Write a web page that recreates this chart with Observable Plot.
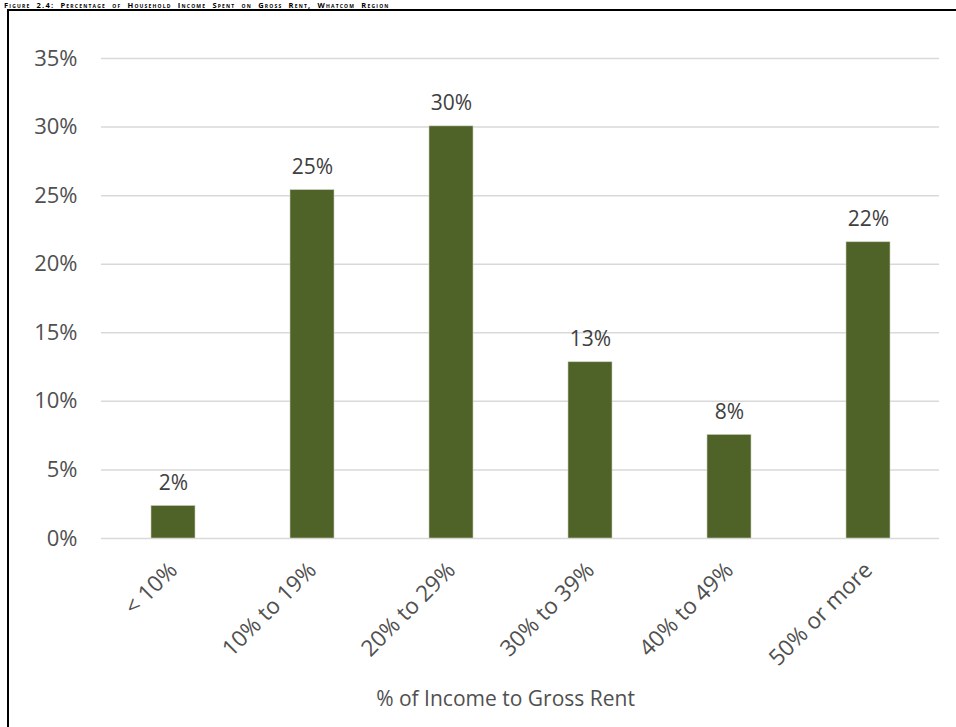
<!DOCTYPE html>
<html>
<head>
<meta charset="utf-8">
<script src="https://cdn.jsdelivr.net/npm/d3@7"></script>
<script src="https://cdn.jsdelivr.net/npm/@observablehq/plot@0.6"></script>
<style>
  html, body { margin: 0; padding: 0; background: #fff; width: 956px; height: 727px; overflow: hidden; }
  #title { position: absolute; left: 4px; top: 1px; white-space: nowrap; font-family: "Open Sans", sans-serif; font-weight: bold; font-size: 7.5px; line-height: 8px; font-variant: small-caps; letter-spacing: 1.2px; word-spacing: 3px; color: #000; }
  #frame { position: absolute; left: 7px; top: 9px; width: 1000px; height: 800px; border-left: 2px solid #000; border-top: 2px solid #000; }
  #chart { position: absolute; left: 0; top: 0; }
</style>
</head>
<body>
<div id="title">Figure 2.4: Percentage of Household Income Spent on Gross Rent, Whatcom Region</div>
<div id="frame"></div>
<div id="chart"></div>
<script>
const categories = ["< 10%", "10% to 19%", "20% to 29%", "30% to 39%", "40% to 49%", "50% or more"];
const values = [2.37, 25.4, 30.05, 12.85, 7.55, 21.6];
const yTicks = [0, 5, 10, 15, 20, 25, 30, 35];
const xTitle = "% of Income to Gross Rent";

const data = categories.map((c, i) => ({category: c, value: values[i], label: Math.round(values[i]) + "%"}));

const font = "'Open Sans', sans-serif";
const chart = Plot.plot({
  width: 956,
  height: 727,
  marginLeft: 101,
  marginRight: 17,
  marginTop: 58,
  marginBottom: 189,
  style: {fontFamily: font, fontSize: "20px", background: "transparent", overflow: "visible"},
  x: {domain: categories, paddingInner: 0.685, paddingOuter: 0.3425, label: null},
  y: {domain: [0, 35], label: null},
  marks: [
    Plot.gridY(yTicks, {stroke: "#d9d9d9", strokeOpacity: 1, strokeWidth: 1.5}),
    Plot.barY(data, {x: "category", y: "value", fill: "#4f6228", stroke: "#c9cdb9", strokeWidth: 0.6}),
    Plot.text(data, {x: "category", y: "value", text: "label", lineAnchor: "bottom", dy: -16, fill: "#404040", fontSize: 21}),
    Plot.axisY(yTicks, {tickSize: 0, tickPadding: 24, tickFormat: d => d + "%", fill: "#505050", fontSize: 22, label: null}),
    Plot.axisX({tickSize: 0, tickPadding: 28, tickRotate: -45, fill: "#505050", fontSize: 22.5, label: null}),
    Plot.text([xTitle], {frameAnchor: "bottom", dx: -15, dy: 167, fill: "#505050", fontSize: 21})
  ]
});
document.getElementById("chart").appendChild(chart);
</script>
</body>
</html>
